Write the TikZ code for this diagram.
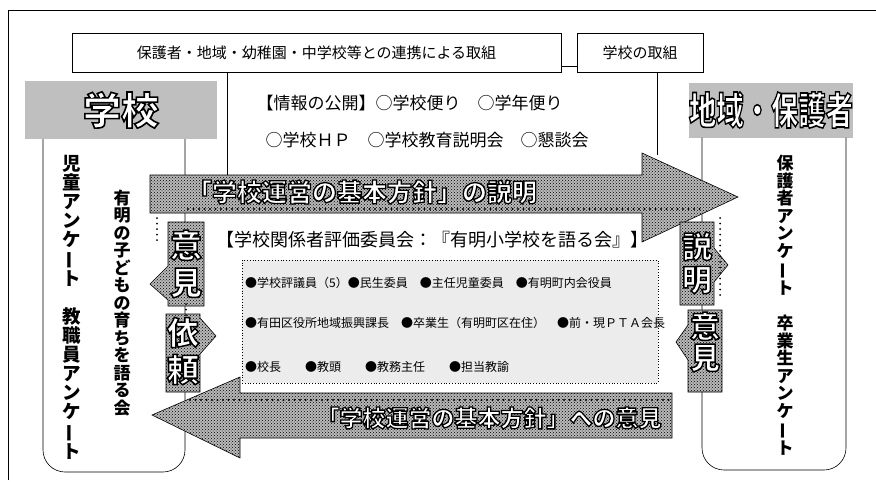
\documentclass[tikz,border=0pt]{standalone}
\usepackage{fontspec}
\setmainfont{Noto Sans CJK JP}
\usetikzlibrary{patterns}
% white letters with a black rim
\newcommand\outl[2][1.3]{\special{pdf:literal direct 0 0 0 RG #1 w 2 Tr}#2\special{pdf:literal direct 0 Tr}}
\newcommand\vbar{\rotatebox[origin=c]{90}{ー}}

\begin{document}
\begin{tikzpicture}[x=1pt, y=-1pt,
    topbox/.style={draw, line width=0.6pt, inner sep=0pt, font=\fontsize{15}{18}\selectfont},
    banner/.style={fill=gray!50, text=white, inner sep=0pt, font=\bfseries\fontsize{38}{40}\selectfont},
    shade/.style={preaction={fill=gray!55}, pattern=crosshatch dots, draw=black, line width=0.6pt},
    beads/.style={line width=2.4pt, line cap=round, dash pattern=on 0pt off 5.5pt},
    vtext/.style={align=center, inner sep=0pt, font=\bfseries\fontsize{18.5}{19}\selectfont},
    vchar/.style={align=center, inner sep=0pt, text=white, font=\bfseries\fontsize{32}{37}\selectfont},
    member/.style={anchor=west, inner sep=0pt, font=\fontsize{12}{14}\selectfont}]
  \useasboundingbox (0,0) rectangle (876,482);
  \draw[line width=0.8pt] (8,480) -- (8,10) -- (876,10);

  % headings
  \node[topbox, minimum width=489, minimum height=39] (renkei) at (316.5,52.5)
    {保護者・地域・幼稚園・中学校等との連携による取組};
  \node[topbox, minimum width=126, minimum height=39] (torikumi) at (640,52.5) {学校の取組};
  \draw[line width=0.6pt] ([yshift=-14pt]renkei.east) -- ([yshift=-14pt]torikumi.west);
  \draw[line width=0.6pt] (renkei.south -| 227,0) -- (227,175);
  \draw[line width=0.6pt] (torikumi.south -| 657,0) -- (657,155);

  \node[banner, minimum width=192, minimum height=58] (gakko) at (121,110) {\outl[1.6]{学校}};
  \node[banner, minimum width=162, minimum height=55] (chiiki) at (771,110)
    {\scalebox{0.72}[1]{\outl[1.6]{地域・保護者}}};
  \draw[line width=0.6pt, rounded corners=22] (gakko.south -| 43,0) -- (43,472) -- (185,472) -- (gakko.south -| 185,0);
  \draw[line width=0.6pt, rounded corners=22] (chiiki.south -| 702,0) -- (702,470) -- (846,470) -- (chiiki.south -| 846,0);

  % information
  \node[anchor=west, font=\fontsize{17}{19}\selectfont] (koukai) at (253,103) {【情報の公開】○学校便り　○学年便り};
  \node[anchor=west, font=\fontsize{17}{19}\selectfont] (setsumeikai) at (262,140) {○学校ＨＰ　○学校教育説明会　○懇談会};

  % committee
  \node[draw, dotted, line width=0.8pt, fill=gray!15, minimum width=416, minimum height=123] (iinkai) at (450,321.5) {};
  \node[font=\fontsize{18}{20}\selectfont] (iinkaimei) at (432,240) {【学校関係者評価委員会：『有明小学校を語る会』】};
  \node[member] (row1) at (245,283) {●学校評議員（5）●民生委員　●主任児童委員　●有明町内会役員};
  \node[member] (row2) at (245,323) {●有田区役所地域振興課長　●卒業生（有明町区在住）　●前・現ＰＴＡ会長};
  \node[member] (row3) at (245,367) {●校長　　●教頭　　●教務主任　　●担当教諭};

  % big arrows
  \path[shade] (150,175) -- (642,175) -- (642,153) -- (738,197) -- (642,242) -- (642,213) -- (150,213) -- cycle;
  \draw[beads] (188,209) -- (700,209);
  \node[text=white, font=\bfseries\fontsize{25}{27}\selectfont] (setsumei) at (362,192)
    {\outl{「学校運営の基本方針」の説明}};
  \path[shade] (672,393) -- (240,393) -- (240,377) -- (152,415) -- (240,458) -- (240,438) -- (672,438) -- cycle;
  \draw[beads] (190,400) -- (672,400);
  \node[text=white, font=\bfseries\fontsize{23}{25}\selectfont] (iken) at (489,418)
    {\outl{「学校運営の基本方針」への意見}};

  % opinion / request
  \path[shade] (168,222) -- (204,222) -- (204,306) -- (168,306) -- (168,300) -- (150,284) -- (168,266) -- cycle;
  \path[shade] (166,314) -- (200,314) -- (200,318) -- (216,336) -- (200,354) -- (200,392) -- (166,392) -- cycle;
  \node[vchar] (ikenL) at (186,264) {\outl[1.5]{意}\\\outl[1.5]{見}};
  \node[vchar] (irai) at (183,351) {\outl[1.5]{依}\\\outl[1.5]{頼}};
  \draw[beads, line width=2pt] (157,218) -- (157,240);
  \draw[beads, line width=2pt] (186,304) -- (186,318);
  \path[shade] (680,222) -- (714,222) -- (714,248) -- (728,265) -- (714,282) -- (714,305) -- (680,305) -- cycle;
  \path[shade] (688,310) -- (722,310) -- (722,392) -- (688,392) -- (688,360) -- (676,342) -- (688,325) -- cycle;
  \node[vchar, font=\bfseries\fontsize{30}{33}\selectfont] (setsumeiR) at (697,263) {\outl[1.5]{説}\\\outl[1.5]{明}};
  \node[vchar, font=\bfseries\fontsize{30}{31}\selectfont] (ikenR) at (705,342) {\outl[1.5]{意}\\\outl[1.5]{見}};
  \draw[beads, line width=2pt] (720,218) -- (720,300);

  % surveys
  \node[vtext] (enqL) at (72,307) {児\\童\\ア\\ン\\ケ\\\vbar\\ト\\[19pt]教\\職\\員\\ア\\ン\\ケ\\\vbar\\ト};
  \node[vtext, font=\bfseries\fontsize{17}{17.5}\selectfont] (kataru) at (122,303) {有\\明\\の\\子\\ど\\も\\の\\育\\ち\\を\\語\\る\\会};
  \node[vtext, font=\bfseries\fontsize{17}{17.6}\selectfont] (enqR) at (785,305) {保\\護\\者\\ア\\ン\\ケ\\\vbar\\ト\\[17.6pt]卒\\業\\生\\ア\\ン\\ケ\\\vbar\\ト};
\end{tikzpicture}
\end{document}
